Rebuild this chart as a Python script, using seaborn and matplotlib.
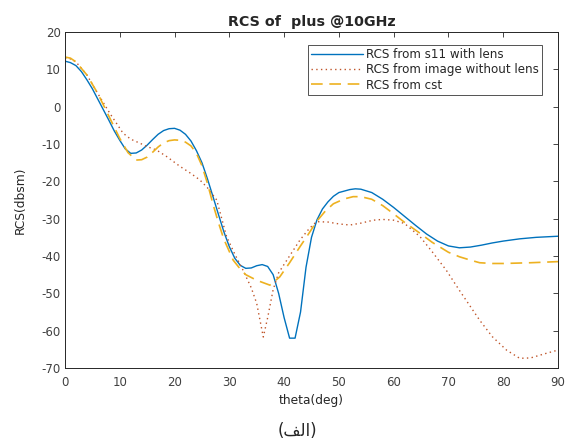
import numpy as np
import pandas as pd
import matplotlib
matplotlib.use('Agg')
import matplotlib.pyplot as plt
import seaborn as sns

# RCS from s11 with lens (solid blue)
theta_s11 = [0, 1, 2, 3, 4, 5, 6, 7, 8, 9, 10, 11, 12, 13, 14, 15, 16, 17, 18,
             19, 20, 21, 22, 23, 24, 25, 26, 27, 28, 29, 30, 31, 32, 33, 34,
             35, 36, 37, 38, 39, 40, 41, 42, 43, 44, 45, 46, 47, 48, 49, 50,
             52, 53, 54, 56, 58, 60, 62, 64, 66, 68, 70, 72, 74, 76, 78, 80,
             83, 86, 90]
rcs_s11 = [12.2, 11.8, 11.0, 9.4, 7.2, 4.8, 2.0, -0.8, -3.6, -6.5, -9.0,
           -11.3, -12.5, -12.4, -11.6, -10.3, -8.8, -7.4, -6.4, -5.9, -5.8,
           -6.3, -7.4, -9.2, -11.8, -15.0, -19.3, -24.0, -28.8, -33.5, -37.5,
           -40.6, -42.5, -43.3, -43.2, -42.6, -42.3, -42.8, -45.0, -50.0,
           -56.5, -62.0, -62.0, -55.0, -43.0, -35.0, -30.3, -27.4, -25.5,
           -24.0, -23.0, -22.2, -22.0, -22.1, -23.0, -24.8, -27.0, -29.4,
           -31.8, -34.1, -36.0, -37.3, -37.8, -37.6, -37.1, -36.5, -36.0,
           -35.4, -35.0, -34.7]

# RCS from image without lens (dotted)
theta_img = [0, 1, 2, 4, 6, 8.2, 10.6, 12, 13.7, 15, 16.7, 18.6, 21, 23,
             24.6, 26, 27.7, 29.5, 31, 32.5, 34, 35, 36.2, 37, 38, 39, 40.5,
             42.9, 44.5, 45.9, 48, 50, 52, 54, 56.3, 58, 60, 62, 64.8, 67,
             69.6, 72, 75.7, 78, 80.6, 83, 85, 86.6, 88, 90]
rcs_img = [13.0, 12.8, 12.0, 8.5, 3.5, -1.8, -7.1, -8.7, -9.8, -10.7, -11.6,
           -13.4, -16.0, -17.9, -19.6, -21.7, -25.0, -34.8, -39.5, -43.8,
           -48.5, -52.7, -61.7, -56.5, -49.0, -44.5, -41.1, -35.7, -32.8,
           -30.8, -30.9, -31.4, -31.7, -31.2, -30.4, -30.2, -30.4, -31.3,
           -34.8, -38.8, -43.8, -49.2, -57.2, -61.6, -65.2, -67.4, -67.3,
           -66.6, -66.0, -65.2]

# RCS from cst (dashed)
theta_cst = [0, 1, 2, 4, 6, 8, 10, 11.5, 13, 14, 15, 16, 17, 18, 19, 20, 21,
             22, 23, 24, 25, 26, 27, 28, 29, 30.7, 32, 33, 35, 37.4, 39.2, 41,
             42.9, 44.5, 45.9, 47.5, 49, 51, 52.6, 54, 56, 58, 59.9, 62, 64.8,
             67, 70, 72, 74, 75.7, 78, 80, 85, 90]
rcs_cst = [13.3, 13.0, 12.0, 8.5, 3.5, -2.5, -8.5, -12.3, -14.3, -14.2,
           -13.5, -12.2, -10.8, -9.7, -9.1, -8.9, -9.0, -9.5, -10.5, -12.5,
           -15.8, -20.5, -26.0, -31.0, -35.5, -41.1, -43.5, -45.0, -46.5,
           -47.8, -45.6, -41.8, -37.5, -34.0, -30.8, -28.0, -26.0, -24.7,
           -24.1, -24.1, -24.8, -26.5, -28.6, -31.0, -33.9, -36.3, -39.0,
           -40.2, -41.1, -41.8, -42.0, -42.0, -41.8, -41.5]

labels = ['RCS from s11 with lens', 'RCS from image without lens', 'RCS from cst']

sns.set_style('white')
plt.rcParams['font.family'] = ['DejaVu Sans']
plt.rcParams['axes.unicode_minus'] = False

fig = plt.figure(figsize=(5.69, 4.41), dpi=100)
ax = fig.add_axes([0.1142, 0.1655, 0.8665, 0.7619])

sns.lineplot(x=theta_s11, y=rcs_s11, ax=ax, color='#0072BD', lw=1.0,
             label=labels[0])
sns.lineplot(x=theta_img, y=rcs_img, ax=ax, color='#C0552A', lw=1.0,
             linestyle=(0, (1, 2.4)), label=labels[1])
sns.lineplot(x=theta_cst, y=rcs_cst, ax=ax, color='#EDB120', lw=1.2,
             linestyle=(0, (7, 4)), label=labels[2])

ax.set_xlim(0, 90)
ax.set_ylim(-70, 20)
ax.set_xticks(np.arange(0, 91, 10))
ax.set_yticks(np.arange(-70, 21, 10))
ax.tick_params(direction='in', length=3.5, width=0.6, top=True, right=True,
               labeltop=False, labelright=False, labelsize=8.5,
               colors='#262626', labelcolor='#404040')
ax.tick_params(axis='x', pad=6)
ax.tick_params(axis='y', pad=3)
for sp in ax.spines.values():
    sp.set_color('#262626')
    sp.set_linewidth(0.7)

ax.set_xlabel('theta(deg)', fontsize=8.8, color='#262626', labelpad=3)
ax.set_ylabel('RCS(dbsm)', fontsize=8.8, color='#262626', labelpad=11)
ax.set_title('RCS of  plus @10GHz', fontsize=10.3, fontweight='bold', pad=4)

leg = ax.legend(loc='upper right', bbox_to_anchor=(0.968, 0.962), fontsize=8.6,
                frameon=True, fancybox=False, handlelength=4.3,
                handletextpad=0.3, borderpad=0.25, labelspacing=0.2,
                borderaxespad=0.0)
leg.get_frame().set_edgecolor('#262626')
leg.get_frame().set_linewidth(0.7)

# caption "(الف)" written in visual order with presentation forms
fig.text(0.523, 0.022, '(\uFED2\uFEDF\uFE8D)', ha='center', va='center',
         fontsize=12, family=['DejaVu Sans'])

fig.savefig('out.png', dpi=100)
